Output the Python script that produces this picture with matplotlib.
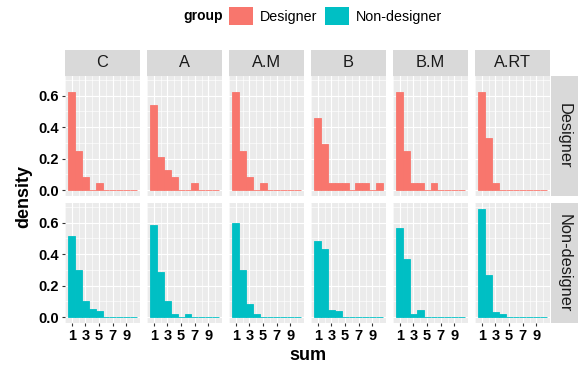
import numpy as np
import matplotlib
matplotlib.use("Agg")
import matplotlib.pyplot as plt
from matplotlib.patches import Patch

plt.rcParams['font.family'] = ['Liberation Sans', 'DejaVu Sans']

# facets and histogram bins (binwidth 1, centred on 1..10)
facets = ['C', 'A', 'A.M', 'B', 'B.M', 'A.RT']
groups = ['Designer', 'Non-designer']
bins = [1, 2, 3, 4, 5, 6, 7, 8, 9, 10]
colors = ['#F8766D', '#00BFC4']

# density per bin
des_C = [0.625, 0.25, 0.083, 0, 0.042, 0, 0, 0, 0, 0]
des_A = [0.542, 0.208, 0.125, 0.083, 0, 0, 0.042, 0, 0, 0]
des_AM = [0.625, 0.25, 0.083, 0, 0.042, 0, 0, 0, 0, 0]
des_B = [0.458, 0.292, 0.042, 0.042, 0.042, 0, 0.042, 0.042, 0, 0.042]
des_BM = [0.625, 0.25, 0.042, 0.042, 0, 0.042, 0, 0, 0, 0]
des_ART = [0.625, 0.333, 0.042, 0, 0, 0, 0, 0, 0, 0]

non_C = [0.516, 0.302, 0.103, 0.050, 0.036, 0, 0, 0, 0, 0]
non_A = [0.585, 0.285, 0.100, 0.019, 0, 0.019, 0, 0, 0, 0]
non_AM = [0.600, 0.300, 0.086, 0.019, 0, 0, 0, 0, 0, 0]
non_B = [0.485, 0.433, 0.048, 0.036, 0, 0, 0, 0, 0, 0]
non_BM = [0.566, 0.366, 0.020, 0.048, 0, 0, 0, 0, 0, 0]
non_ART = [0.685, 0.265, 0.035, 0.018, 0, 0, 0, 0, 0, 0]

designer = [des_C, des_A, des_AM, des_B, des_BM, des_ART]
nondesigner = [non_C, non_A, non_AM, non_B, non_BM, non_ART]

W, H = 578, 368
fig = plt.figure(figsize=(W / 100, H / 100), dpi=100)

def px(x, y, w, h):
    # pixel box (top-left origin) -> figure fraction
    return [x / W, 1 - (y + h) / H, w / W, h / H]

ymax = 0.69
ylim = (-0.05 * ymax, 1.05 * ymax)
row_top = [76, 203]
row_h = 119.5
pan_w = 75

for r, (grp, data) in enumerate(zip(groups, [designer, nondesigner])):
    for c, fac in enumerate(facets):
        left = 65 + c * 82
        ax = fig.add_axes(px(left, row_top[r], pan_w, row_h))
        ax.set_facecolor('#EBEBEB')
        ax.bar(bins, data[c], width=1, color=colors[r], edgecolor=colors[r],
               linewidth=0.6, zorder=3)
        ax.set_xlim(0, 11)
        ax.set_ylim(*ylim)
        ax.set_xticks([1, 3, 5, 7, 9])
        ax.set_xticks([0, 2, 4, 6, 8, 10], minor=True)
        ax.set_yticks([0, 0.2, 0.4, 0.6])
        ax.set_yticks([0.1, 0.3, 0.5, 0.7], minor=True)
        ax.grid(which='major', color='white', linewidth=0.85, zorder=0)
        ax.grid(which='minor', color='white', linewidth=0.45, zorder=0)
        ax.set_axisbelow(True)
        for s in ax.spines.values():
            s.set_visible(False)
        ax.tick_params(which='minor', length=0)
        ax.tick_params(which='major', length=2.5, width=0.8, color='#333333',
                       labelsize=10.5, pad=2)
        if c == 0:
            ax.set_yticklabels(['0.0', '0.2', '0.4', '0.6'], fontweight='bold')
        else:
            ax.tick_params(axis='y', length=0, labelleft=False)
        if r == 1:
            ax.set_xticklabels(['1', '3', '5', '7', '9'], fontweight='bold')
        else:
            ax.tick_params(axis='x', length=0, labelbottom=False)

        if r == 0:
            sax = fig.add_axes(px(left, 49.5, pan_w, 26.5))
            sax.set_facecolor('#D9D9D9')
            sax.set_xticks([])
            sax.set_yticks([])
            for s in sax.spines.values():
                s.set_visible(False)
            sax.text(0.5, 0.5, fac, ha='center', va='center', fontsize=11.8,
                     color='#1A1A1A', transform=sax.transAxes)

    rax = fig.add_axes(px(550.5, row_top[r], 27, row_h))
    rax.set_facecolor('#D9D9D9')
    rax.set_xticks([])
    rax.set_yticks([])
    for s in rax.spines.values():
        s.set_visible(False)
    rax.text(0.5, 0.5, grp, ha='center', va='center', fontsize=11.8,
             rotation=-90, color='#1A1A1A', transform=rax.transAxes)

fig.text(24 / W, 1 - 196 / H, 'density', rotation=90, ha='center', va='center',
         fontsize=13, fontweight='bold')
fig.text(307.5 / W, 1 - 356 / H, 'sum', ha='center', va='center',
         fontsize=13, fontweight='bold')

# legend on top
fig.text(203.5 / W, 1 - 16 / H, 'group', ha='center', va='center',
         fontsize=10, fontweight='bold')
handles = [Patch(facecolor=colors[i], edgecolor='none') for i in range(2)]
fig.legend(handles, groups, ncol=2, loc='center left',
           bbox_to_anchor=(229 / W, 1 - 16 / H), frameon=False, fontsize=10.3,
           handlelength=1.65, handleheight=1.65, handletextpad=0.5,
           columnspacing=0.55, borderaxespad=0, borderpad=0)

fig.savefig('out.png', dpi=100)
